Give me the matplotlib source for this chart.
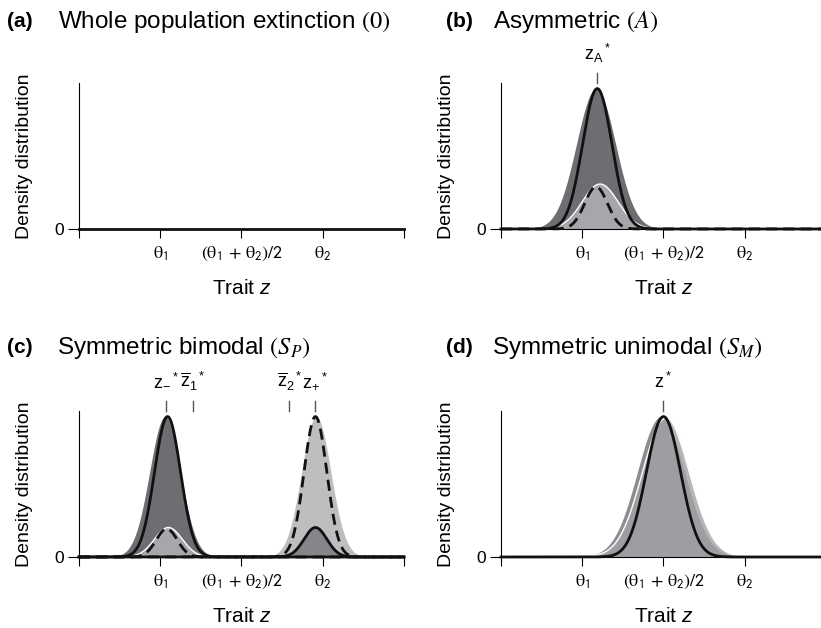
import numpy as np
import matplotlib
matplotlib.use("Agg")
import matplotlib.pyplot as plt

plt.rcParams['font.family'] = ['Liberation Sans', 'DejaVu Sans']
plt.rcParams['mathtext.fontset'] = 'custom'
plt.rcParams['mathtext.rm'] = 'Liberation Sans'
plt.rcParams['mathtext.it'] = 'Liberation Sans:italic'
plt.rcParams['mathtext.bf'] = 'Liberation Sans:bold'
plt.rcParams['mathtext.sf'] = 'Liberation Sans'

# trait axis: ticks and their labels
trait_ticks = [0, 1, 2, 3, 4]
trait_labels = ['', r'$\mathrm{\theta}_{\mathsf{1}}$',
                r'$(\mathrm{\theta}_{\mathsf{1}}\mathsf{\,+\,}\mathrm{\theta}_{\mathsf{2}})\mathsf{/2}$',
                r'$\mathrm{\theta}_{\mathsf{2}}$', '']

# each curve: [mean, peak height, sd]
# (b) asymmetric
b_dark_fill = [1.17, 1.00, 0.24]
b_solid = [1.185, 1.00, 0.18]
b_light_fill = [1.22, 0.32, 0.22]
b_dashed = [1.17, 0.30, 0.14]
b_marks = [1.185]
b_mark_labels = [r'$\mathrm{z_A{}^*}$']

# (c) symmetric bimodal
c_dark_fill = [1.06, 1.00, 0.19]
c_solid_left = [1.09, 1.00, 0.16]
c_light_fill_left = [1.10, 0.21, 0.17]
c_dashed_left = [1.08, 0.20, 0.13]
c_light_fill_right = [2.92, 1.00, 0.18]
c_dashed_right = [2.91, 1.00, 0.14]
c_dark_fill_right = [2.91, 0.21, 0.14]
c_solid_right = [2.91, 0.21, 0.14]
c_marks = [1.07, 1.40, 2.59, 2.91]
c_mark_labels = [r'$\mathrm{z_{-}{}^*}$', r'$\mathrm{\overline{z}_1{}^*}$',
                 r'$\mathrm{\overline{z}_2{}^*}$', r'$\mathrm{z_{+}{}^*}$']

# (d) symmetric unimodal
d_fill_a = [1.97, 1.00, 0.29]
d_fill_b = [2.03, 0.99, 0.29]
d_solid = [2.00, 1.00, 0.21]
d_marks = [2.0]
d_mark_labels = [r'$\mathrm{z^*}$']

titles = ['Whole population extinction $(0)$', 'Asymmetric $(A)$',
          r'Symmetric bimodal $(S_P)$', r'Symmetric unimodal $(S_M)$']
letters = ['(a)', '(b)', '(c)', '(d)']
letter_x = [0.0085, 0.5432, 0.0085, 0.5432]
title_x = [0.0706, 0.6005, 0.0694, 0.5993]
title_y = [0.965, 0.965, 0.4459, 0.4459]

z = np.linspace(0, 4, 801)


def gauss(p):
    mean, peak, sd = p
    return peak * np.exp(-0.5 * ((z - mean) / sd) ** 2)


DARK = '#6d6e71'
LIGHT = '#a5a7aa'
LW = 2.0
DASH = (0, (4, 2.2))

fig = plt.figure(figsize=(8.21, 6.28), dpi=100)

W = 0.3959
H = 0.2325
pos = [(0.0962, 0.6354), (0.6102, 0.6354), (0.0962, 0.1131), (0.6102, 0.1131)]
axes = [fig.add_axes([x, y, W, H]) for x, y in pos]

for ax in axes:
    ax.set_xlim(0, 4)
    ax.set_ylim(0, 1.04)
    for s in ['top', 'right']:
        ax.spines[s].set_visible(False)
    ax.spines['left'].set_linewidth(0.8)
    ax.spines['bottom'].set_linewidth(0.8)
    ax.set_xticks(trait_ticks)
    ax.set_xticklabels(trait_labels, fontsize=13)
    for t in ax.get_xticklabels():
        t.set_math_fontfamily('stix')
    ax.set_yticks([0])
    ax.set_yticklabels(['0'], fontsize=12.5)
    ax.tick_params(axis='x', direction='out', length=6.5, width=0.8, pad=5)
    ax.tick_params(axis='y', direction='out', length=8, width=0.8, pad=3)
    ax.set_xlabel('Trait $z$', fontsize=15)
    ax.xaxis.set_label_coords(0.5, -0.34)
    ax.set_ylabel('Density distribution', fontsize=14)
    ax.yaxis.set_label_coords(-0.14, 0.5)


def line(ax, p, dashed=False):
    ax.plot(z, gauss(p), color='#111111', lw=LW, ls=DASH if dashed else '-',
            zorder=4, clip_on=False)


def marks(ax, xs, labels):
    for x, lab in zip(xs, labels):
        ax.plot([x, x], [1.0, 1.065], color='#555555', lw=1.0,
                transform=ax.get_xaxis_transform(), clip_on=False)
        ax.text(x, 1.2, lab, transform=ax.get_xaxis_transform(),
                ha='center', va='center', fontsize=13)


# (a) nothing survives
ax = axes[0]
ax.plot(z, np.zeros_like(z), color='#111111', lw=LW, zorder=4, clip_on=False)

# (b)
ax = axes[1]
ax.fill_between(z, gauss(b_dark_fill), color=DARK, lw=0)
ax.fill_between(z, gauss(b_light_fill), color=LIGHT, lw=0)
ax.plot(z, gauss(b_light_fill), color='white', lw=1.0, zorder=3)
line(ax, b_solid)
line(ax, b_dashed, dashed=True)
marks(ax, b_marks, b_mark_labels)

# (c)
ax = axes[2]
ax.fill_between(z, gauss(c_dark_fill), color=DARK, lw=0)
ax.fill_between(z, gauss(c_light_fill_left), color=LIGHT, lw=0)
ax.plot(z, gauss(c_light_fill_left), color='white', lw=1.0, zorder=3)
ax.fill_between(z, gauss(c_light_fill_right), color='#bcbec0', lw=0)
ax.fill_between(z, gauss(c_dark_fill_right), color='#858689', lw=0)
line(ax, c_solid_left)
line(ax, c_dashed_left, dashed=True)
line(ax, c_solid_right)
line(ax, c_dashed_right, dashed=True)
marks(ax, c_marks, c_mark_labels)

# (d)
ax = axes[3]
fa, fb = gauss(d_fill_a), gauss(d_fill_b)
ax.fill_between(z, fa, color='#8b8c8f', lw=0)
ax.fill_between(z, fb, color='#b4b6b8', lw=0)
ax.fill_between(z, np.minimum(fa, fb), color='#9d9ea1', lw=0)
ax.plot(z, fb, color='white', lw=1.0, zorder=3)
line(ax, d_solid)
marks(ax, d_marks, d_mark_labels)

# panel titles
for i in range(4):
    fig.text(letter_x[i], title_y[i], letters[i], fontsize=15,
             fontweight='bold', va='center')
    fig.text(title_x[i], title_y[i], titles[i], fontsize=17.5, va='center',
             math_fontfamily='stix')

fig.savefig('out.png', dpi=100)
